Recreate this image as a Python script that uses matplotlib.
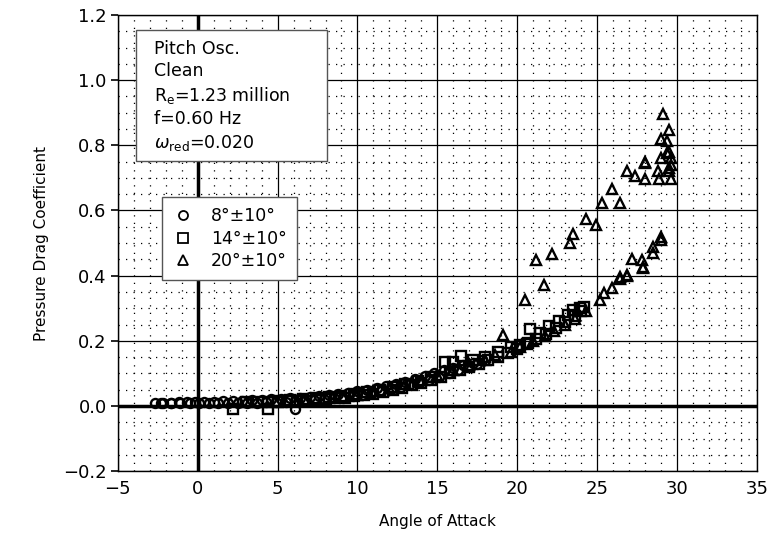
import matplotlib.pyplot as plt
from matplotlib.ticker import MultipleLocator
from matplotlib.patches import Rectangle

# 8 deg +/- 10 deg (circles)
circ_aoa = [-2.7, -2.2, -1.7, -1.2, -0.7, -0.2, 0.4, 1.0, 1.6, 2.2, 2.8, 3.4, 4.0, 4.6,
            5.2, 5.8, 6.4, 7.0, 7.6, 8.2, 8.8, 9.4, 10.0, 10.6, 11.2, 11.8, 12.4, 13.0,
            13.6, 14.2, 14.8, 15.4, 16.0, 16.6, 17.2, 17.8,
            17.5, 16.9, 16.3, 15.7, 15.1, 14.5, 13.9, 13.3, 12.7, 12.1, 11.5, 10.9, 10.3,
            9.7, 9.1, 8.5, 7.9, 7.3, 6.7, 6.1, 5.5, 4.9, 4.3, 3.7, 3.1, 2.5, 1.9, 1.3,
            0.7, 0.1, -0.5, -1.1, -1.7, -2.3, 6.1]
circ_cd = [0.010, 0.010, 0.010, 0.011, 0.011, 0.012, 0.012, 0.013, 0.014, 0.015, 0.016,
           0.017, 0.019, 0.020, 0.022, 0.024, 0.026, 0.028, 0.030, 0.033, 0.036, 0.040,
           0.045, 0.050, 0.056, 0.062, 0.068, 0.075, 0.083, 0.092, 0.101, 0.110, 0.118,
           0.126, 0.133, 0.140,
           0.130, 0.120, 0.110, 0.100, 0.090, 0.081, 0.073, 0.066, 0.059, 0.052, 0.046,
           0.040, 0.035, 0.030, 0.026, 0.023, 0.020, 0.018, 0.016, 0.014, 0.013, 0.012,
           0.011, 0.010, 0.010, 0.009, 0.009, 0.009, 0.009, 0.009, 0.009, 0.009, 0.009,
           0.009, -0.008]

# 14 deg +/- 10 deg (squares)
sq_aoa = [2.2, 3.0, 3.8, 4.4, 5.0, 5.8, 6.6, 7.4, 8.2, 9.0, 9.8, 10.6, 11.4, 12.2, 13.0,
          13.8, 14.6, 15.5, 16.0, 16.5, 17.2, 18.0, 18.8, 19.6, 20.2, 20.7, 20.8, 21.4,
          22.0, 22.6, 23.2, 23.5, 23.9, 24.2,
          24.0, 23.6, 23.0, 22.4, 21.8, 21.2, 20.6, 20.0, 19.4, 18.8, 18.2, 17.6, 17.0,
          16.4, 15.8, 15.2, 14.6, 14.0, 13.4, 12.8, 12.2, 11.6, 11.0, 10.4, 9.8, 9.2,
          8.6, 8.0, 7.4, 6.8, 6.2, 5.6, 5.0, 4.4]
sq_cd = [-0.010, 0.012, 0.013, -0.010, 0.016, 0.018, 0.020, 0.023, 0.027, 0.031, 0.036,
         0.042, 0.050, 0.058, 0.067, 0.078, 0.090, 0.134, 0.136, 0.154, 0.140, 0.150,
         0.165, 0.182, 0.188, 0.193, 0.236, 0.225, 0.245, 0.262, 0.280, 0.295, 0.300,
         0.305,
         0.290, 0.275, 0.258, 0.240, 0.222, 0.205, 0.190, 0.175, 0.162, 0.150, 0.140,
         0.130, 0.120, 0.110, 0.100, 0.090, 0.080, 0.072, 0.064, 0.056, 0.050, 0.044,
         0.038, 0.034, 0.030, 0.026, 0.023, 0.020, 0.018, 0.016, 0.015, 0.014, 0.013,
         0.012]

# 20 deg +/- 10 deg (triangles)
tri_aoa = [10.0, 11.0, 12.0, 13.0, 14.0, 15.0, 16.0, 17.0, 18.0, 18.6, 19.1, 19.6, 20.2,
           21.0, 21.75, 22.3, 23.0, 23.6, 24.3, 25.2, 25.4, 25.9, 26.4, 26.4, 26.9, 26.9,
           27.2, 27.8, 27.9, 27.9, 28.5, 28.5, 29.0, 29.0,
           29.1, 29.5, 29.0, 29.4, 29.5, 29.0, 28.0, 29.5, 29.6, 29.5, 28.8, 27.4, 28.0,
           28.9, 29.6, 29.6, 29.4,
           28.0, 26.9, 26.4, 25.9, 25.3, 24.9, 24.3, 23.5, 23.3, 22.2, 21.2, 21.7, 20.5]
tri_cd = [0.035, 0.045, 0.055, 0.068, 0.080, 0.095, 0.110, 0.125, 0.140, 0.155, 0.218,
          0.165, 0.180, 0.200, 0.215, 0.230, 0.250, 0.268, 0.290, 0.326, 0.347, 0.362,
          0.390, 0.395, 0.398, 0.403, 0.451, 0.449, 0.427, 0.424, 0.487, 0.468, 0.519,
          0.510,
          0.895, 0.846, 0.820, 0.813, 0.780, 0.762, 0.750, 0.730, 0.740, 0.720, 0.720,
          0.706, 0.695, 0.695, 0.695, 0.760, 0.777,
          0.747, 0.721, 0.624, 0.667, 0.624, 0.554, 0.575, 0.528, 0.500, 0.465, 0.449,
          0.372, 0.326]

labels = ['8°±10°', '14°±10°', '20°±10°']

fig = plt.figure(figsize=(7.7, 5.33), dpi=100)
ax = fig.add_axes([0.153, 0.116, 0.830, 0.856])

mk = dict(linestyle='none', mfc='none', mec='black', mew=1.7)
ax.plot(circ_aoa, circ_cd, marker='o', ms=6.5, label=labels[0], **mk)
ax.plot(sq_aoa, sq_cd, marker='s', ms=7, label=labels[1], **mk)
ax.plot(tri_aoa, tri_cd, marker='^', ms=7.5, label=labels[2], **mk)

ax.set_xlim(-5, 35)
ax.set_ylim(-0.2, 1.2)
ax.xaxis.set_major_locator(MultipleLocator(5))
ax.xaxis.set_minor_locator(MultipleLocator(1))
ax.yaxis.set_major_locator(MultipleLocator(0.2))
ax.yaxis.set_minor_locator(MultipleLocator(0.05))
ax.yaxis.set_major_formatter(plt.FuncFormatter(lambda v, p: f'{v:.1f}'.replace('-', '\u2212')))
ax.grid(which='major', color='black', linewidth=0.9)
ax.grid(which='minor', color='black', linewidth=0.9, linestyle=(0, (1, 5)))
ax.set_axisbelow(True)
ax.axhline(0, color='black', linewidth=2.5, zorder=1.5)
ax.axvline(0, color='black', linewidth=2.5, zorder=1.5)
ax.tick_params(which='minor', length=0)
ax.tick_params(axis='x', which='major', length=0, labelsize=13, pad=6)
ax.tick_params(axis='y', which='major', length=5, width=1.2, labelsize=13, pad=3)
for s in ax.spines.values():
    s.set_linewidth(1.0)

ax.set_xlabel('Angle of Attack', fontsize=11, labelpad=12)
ax.set_ylabel('Pressure Drag Coefficient', fontsize=11, labelpad=10)

# info box
ax.add_patch(Rectangle((0.029, 0.679), 0.298, 0.288, transform=ax.transAxes,
                       facecolor='white', edgecolor='#555555', linewidth=1.0, zorder=3))
info = 'Pitch Osc.\nClean\nR$_\\mathregular{e}$=1.23 million\nf=0.60 Hz\n$\\omega_\\mathregular{red}$=0.020'
ax.text(0.056, 0.945, info, transform=ax.transAxes, fontsize=12.5, va='top', ha='left',
        linespacing=1.3, zorder=4)

leg = ax.legend(loc='upper left', bbox_to_anchor=(0.056, 0.62), fontsize=12.5,
                frameon=True, fancybox=False, edgecolor='#555555', framealpha=1,
                handletextpad=1.0, labelspacing=0.25, borderpad=0.6, handlelength=1.2)
leg.get_frame().set_linewidth(1.0)
for h in leg.legend_handles:
    h.set_markersize(6.5)
    h.set_markeredgewidth(1.3)

fig.savefig('out.png', dpi=100)
